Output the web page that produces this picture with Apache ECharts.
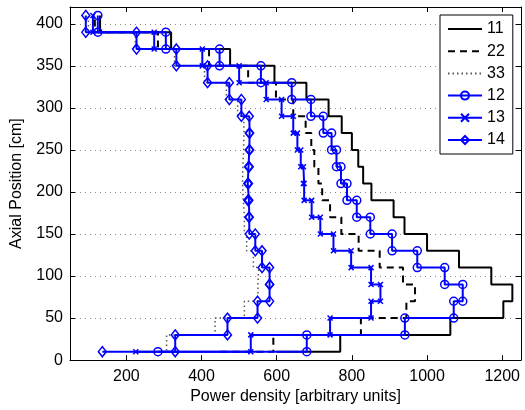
<!DOCTYPE html>
<html>
<head>
<meta charset="utf-8">
<script src="https://cdn.jsdelivr.net/npm/echarts@6.0.0/dist/echarts.min.js"></script>
<style>
html,body{margin:0;padding:0;background:#fff;}
#chart{width:525px;height:410px;}
</style>
</head>
<body>
<div id="chart"></div>
<script>
// Axial positions (cm) of the step nodes
var positions = [10,30,50,70,90,110,130,150,170,190,210,230,250,270,290,310,330,350,370,390,410];
// Power density values per node for each case
var case11 = [600,769,1062,1203,1227,1171,1085,1000,940,911,852,830,817,800,773,738,679,594,476,319,130];
var case22 = [450,591,824,945,968,936,874,818,772,742,721,711,700,692,677,644,598,524,420,284,116];
var case33 = [250,307,436,514,550,552,538,520,514,511,509,510,512,513,512,496,466,408,328,224,99];
var case12 = [284,680,941,1071,1095,1047,974,907,849,813,787,771,759,746,724,691,640,558,448,305,124];
var case13 = [225,531,742,851,876,851,798,751,716,693,673,671,664,655,644,613,572,500,402,274,111];
var case14 = [136,330,469,549,581,581,561,543,527,526,523,525,527,528,527,506,474,416,333,227,92];
var seriesNames = ['11','22','33','12','13','14'];
var xTicks = [200,400,600,800,1000,1200];

function stairs(P, z) {
  var pts = [];
  for (var i = 0; i < P.length; i++) {
    pts.push([P[i], z[i]]);
    if (i < P.length - 1) pts.push([P[i + 1], z[i]]);
  }
  return pts;
}

var FONT = "'Liberation Sans', Arial, Helvetica, sans-serif";
var BLUE = '#0000ff';
var crossPath = 'path://M0,0L10,10M10,0L0,10';

function blackSeries(name, data, dash, color, width) {
  return {
    name: name, type: 'line', data: stairs(data, positions),
    xAxisIndex: 0, yAxisIndex: 0,
    symbol: 'circle', symbolSize: 0, showSymbol: false, animation: false,
    lineStyle: {color: color, width: width, type: dash},
    itemStyle: {color: 'rgba(0,0,0,0)', borderWidth: 0}
  };
}
function blueSeries(name, data, symbol, size) {
  return {
    name: name, type: 'line', data: stairs(data, positions),
    xAxisIndex: 0, yAxisIndex: 0,
    symbol: symbol, symbolSize: size, showSymbol: true, animation: false,
    lineStyle: {color: BLUE, width: 2},
    itemStyle: {color: 'rgba(0,0,0,0)', borderColor: BLUE, borderWidth: 1.5}
  };
}

var chart = echarts.init(document.getElementById('chart'), null, {renderer: 'canvas'});
chart.setOption({
  animation: false,
  backgroundColor: '#fff',
  textStyle: {fontFamily: FONT},
  grid: {left: 70, top: 7, width: 451, height: 356, containLabel: false},
  legend: {
    orient: 'vertical', left: 440, top: 15,
    data: seriesNames,
    itemWidth: 34, itemHeight: 10, itemGap: 6.2,
    padding: [6, 8, 6, 7],
    backgroundColor: '#fff', borderColor: '#000', borderWidth: 1,
    textStyle: {fontSize: 16, color: '#000', fontFamily: FONT}
  },
  xAxis: [{
    type: 'value', min: 50, max: 1250, position: 'bottom',
    name: 'Power density [arbitrary units]', nameLocation: 'middle', nameGap: 28,
    nameTextStyle: {fontSize: 16, color: '#000', fontFamily: FONT},
    axisLine: {show: true, onZero: false, lineStyle: {color: '#000', width: 1}},
    axisTick: {show: true, inside: true, length: 5, customValues: xTicks, lineStyle: {color: '#000'}},
    axisLabel: {show: true, customValues: xTicks, fontSize: 16, color: '#000', margin: 8, fontFamily: FONT,
      formatter: function (v) { return String(v); }},
    splitLine: {show: false}
  }, {
    type: 'value', min: 50, max: 1250, position: 'top',
    axisLine: {show: true, onZero: false, lineStyle: {color: '#000', width: 1}},
    axisTick: {show: true, inside: true, length: 5, customValues: xTicks, lineStyle: {color: '#000'}},
    axisLabel: {show: false},
    splitLine: {show: false}
  }],
  yAxis: [{
    type: 'value', min: 0, max: 420, interval: 50, position: 'left',
    name: 'Axial Position [cm]', nameLocation: 'middle', nameGap: 45,
    nameTextStyle: {fontSize: 16, color: '#000', fontFamily: FONT},
    axisLine: {show: true, onZero: false, lineStyle: {color: '#000', width: 1}},
    axisTick: {show: true, inside: true, length: 5, lineStyle: {color: '#000'}},
    axisLabel: {fontSize: 16, color: '#000', margin: 7, fontFamily: FONT,
      formatter: function (v) { return v % 50 === 0 && v <= 400 ? String(v) : ''; }},
    splitLine: {show: true, lineStyle: {color: '#888', width: 1, type: [1, 4]}}
  }, {
    type: 'value', min: 0, max: 420, interval: 50, position: 'right',
    axisLine: {show: true, onZero: false, lineStyle: {color: '#000', width: 1}},
    axisTick: {show: true, inside: true, length: 5, lineStyle: {color: '#000'}},
    axisLabel: {show: false},
    splitLine: {show: false}
  }],
  series: [
    blackSeries('11', case11, 'solid', '#000', 2),
    blackSeries('22', case22, [7, 5], '#000', 2),
    blackSeries('33', case33, [1.5, 3], '#555', 1.5),
    blueSeries('12', case12, 'circle', 8),
    blueSeries('13', case13, crossPath, 5),
    blueSeries('14', case14, 'diamond', [8, 10])
  ]
});
</script>
</body>
</html>
